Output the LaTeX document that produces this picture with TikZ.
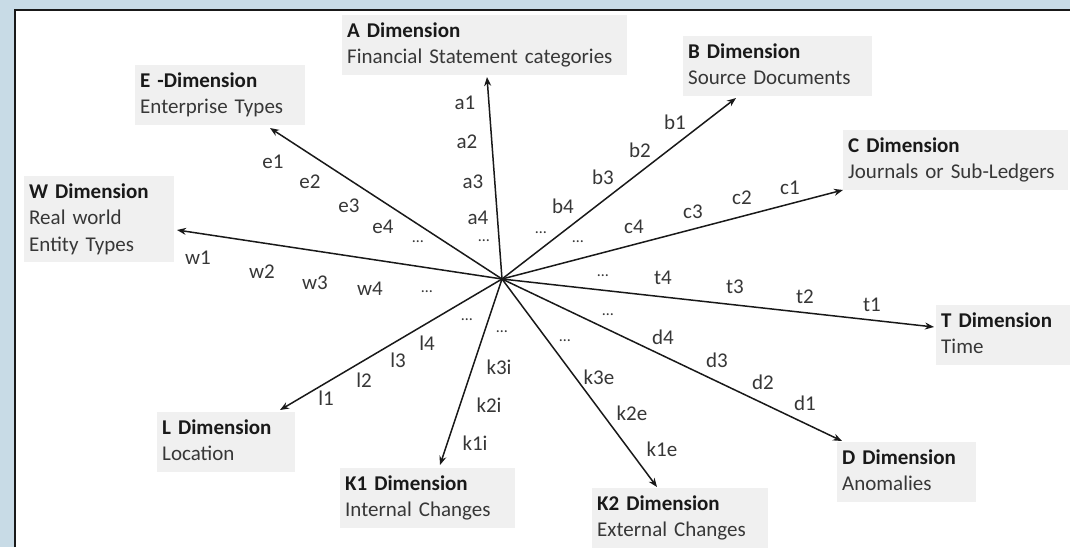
\documentclass[tikz,border=0pt]{standalone}
\usepackage{fontspec}
\setmainfont{Carlito}
\usetikzlibrary{arrows.meta}
\definecolor{bgblue}{RGB}{200,219,230}
\definecolor{boxgray}{RGB}{240,240,240}
\definecolor{ink}{RGB}{25,25,25}
\definecolor{soft}{RGB}{55,55,55}
\tikzset{
  dimbox/.style={fill=boxgray, anchor=north west, align=left, inner xsep=5pt, inner ysep=0pt,
    font=\fontsize{21}{26.5}\selectfont, text=soft},
  lab/.style={font=\fontsize{21}{21}\selectfont, inner sep=0pt, text=soft},
  dotlab/.style={font=\fontsize{16}{16}\selectfont, inner sep=0pt, text=soft},
  arr/.style={line width=1.5pt, draw=ink, -{Stealth[length=9pt,width=7pt]}}
}
\newcommand{\topstrut}{\rule{0pt}{22pt}}
\newcommand{\botstrut}{\rule[-11pt]{0pt}{11pt}}
\newcommand{\dimtitle}[1]{\textcolor{ink}{\textbf{#1}}}
\begin{document}
\begin{tikzpicture}[x=1pt,y=-1pt]
\fill[bgblue] (0,0) rectangle (1070,547);
\useasboundingbox (0,0) rectangle (1070,547);
\fill[white] (15,10) rectangle (1070,547);
\draw[line width=2pt, ink] (15,547) -- (15,10) -- (1070,10);

% dimension boxes
\node[dimbox, text width=275pt] (A) at (342,15) {\topstrut\dimtitle{A Dimension}\\Financial Statement categories\botstrut};
\node[dimbox, text width=179pt] (B) at (683,36) {\topstrut\dimtitle{B Dimension}\\Source Documents\botstrut};
\node[dimbox, text width=215pt] (C) at (843,130) {\topstrut\dimtitle{C Dimension}\\Journals or Sub-Ledgers\botstrut};
\node[dimbox, text width=200pt] (T) at (936,305) {\topstrut\dimtitle{T Dimension}\\Time\botstrut};
\node[dimbox, text width=129pt] (D) at (837,442) {\topstrut\dimtitle{D Dimension}\\Anomalies\botstrut};
\node[dimbox, text width=166pt] (K2) at (592,488) {\topstrut\dimtitle{K2 Dimension}\\External Changes\botstrut};
\node[dimbox, text width=165pt] (K1) at (340,468) {\topstrut\dimtitle{K1 Dimension}\\Internal Changes\botstrut};
\node[dimbox, text width=128pt] (L) at (157,412) {\topstrut\dimtitle{L Dimension}\\Location\botstrut};
\node[dimbox, text width=140pt] (W) at (24,176) {\topstrut\dimtitle{W Dimension}\\Real world\\Entity Types\botstrut};
\node[dimbox, text width=160pt] (E) at (135,65) {\topstrut\dimtitle{E -Dimension}\\Enterprise Types\botstrut};

% hub and arrow tips
\coordinate (O) at (502,279);
\coordinate (tA) at (487,77);
\coordinate (tB) at (736,98);
\coordinate (tC) at (843,190);
\coordinate (tT) at (934,327);
\coordinate (tD) at (842,441);
\coordinate (tK2) at (657,487);
\coordinate (tK1) at (440,465);
\coordinate (tL) at (280,410);
\coordinate (tW) at (177,230);
\coordinate (tE) at (270,128);
\foreach \t in {tA,tB,tC,tT,tD,tK2,tK1,tL,tW,tE}
  \draw[arr] (O) -- (\t);

% labels
\foreach \n/\x/\y in {a1/465/103, a2/467/142, a3/473/182, a4/478/218,
  b1/675/122, b2/640/150, b3/603/177, b4/563/206,
  c1/790/188, c2/742/198, c3/693/212, c4/634/227,
  t1/872/305, t2/805/297, t3/735/287, t4/663/278,
  d1/805/403, d2/763/382, d3/717/360, d4/663/337,
  k1e/662/449, k2e/632/413, k3e/599/377,
  k1i/475/443, k2i/489/405, k3i/499/367,
  l1/326/398, l2/364/380, l3/398/360, l4/427/343,
  w1/198/258, w2/262/272, w3/315/283, w4/370/289,
  e1/273/162, e2/310/182, e3/349/206, e4/383/227}
  \node[lab] (lab-\n) at (\x,\y) {\n};

% ellipses
\foreach \n/\x/\y in {a/484/241, b/541/233, c/578/242, t/603/276, d/608/315,
  ke/565/341, ki/502/332, l/467/320, w/427/292, e/418/242}
  \node[dotlab] (dots-\n) at (\x,\y) {…};
\end{tikzpicture}
\end{document}
